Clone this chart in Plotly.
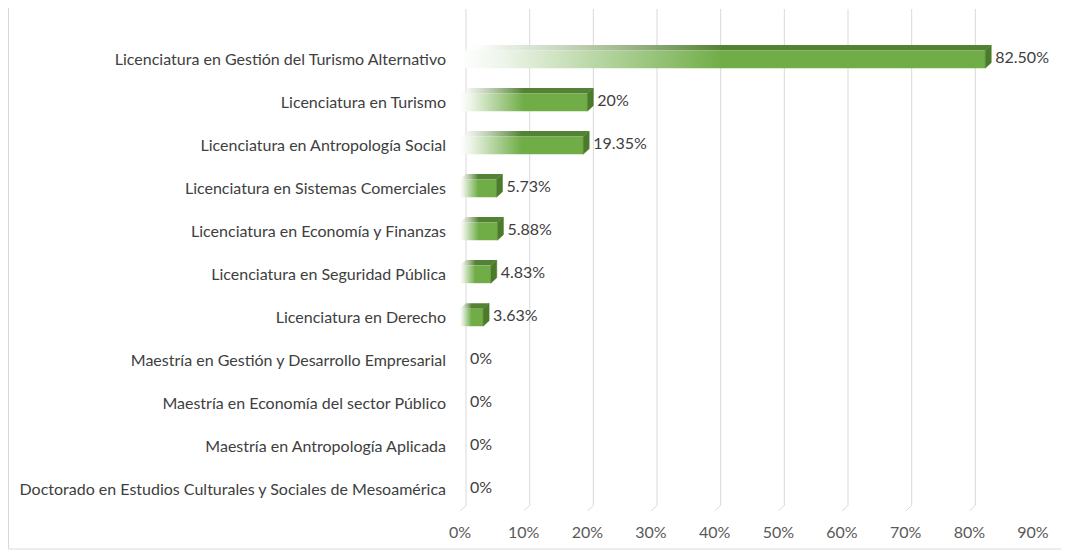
import plotly.graph_objects as go

categories = [
    "Licenciatura en Gestión del Turismo Alternativo",
    "Licenciatura en Turismo",
    "Licenciatura en Antropología Social",
    "Licenciatura en Sistemas Comerciales",
    "Licenciatura en Economía y Finanzas",
    "Licenciatura en Seguridad Pública",
    "Licenciatura en Derecho",
    "Maestría en Gestión y Desarrollo Empresarial",
    "Maestría en Economía del sector Público",
    "Maestría en Antropología Aplicada",
    "Doctorado en Estudios Culturales y Sociales de Mesoamérica",
]
values = [0.825, 0.20, 0.1935, 0.0573, 0.0588, 0.0483, 0.0363, 0.0, 0.0, 0.0, 0.0]
value_labels = ["82.50%", "20%", "19.35%", "5.73%", "5.88%", "4.83%", "3.63%", "0%", "0%", "0%", "0%"]
x_ticks = [0.0, 0.1, 0.2, 0.3, 0.4, 0.5, 0.6, 0.7, 0.8, 0.9]
x_ticktext = ["0%", "10%", "20%", "30%", "40%", "50%", "60%", "70%", "80%", "90%"]

# ---- geometry / style (figure pixels; page adds an 8px body margin) ----
W, H = 1061, 544
PLOT_L, PLOT_R = 452, 1025
MT, MB = 1, 41
X_RANGE = [0.0, 0.9]
Y_RANGE = [10.5, -1.17]
px_per_x = (PLOT_R - PLOT_L) / (X_RANGE[1] - X_RANGE[0])
px_per_cat = (H - MT - MB) / (Y_RANGE[0] - Y_RANGE[1])
DX = 6.0 / px_per_x          # 3D depth offset (x, data units)
DY = 5.5 / px_per_cat        # 3D depth offset (y, category units)
HALF = 8.8 / px_per_cat      # half height of bar front face
LABEL_GAP = 4.0 / px_per_x
FRONT = "#70AD47"
TOP = "#548235"
SIDE = "#4B7A2B"
GRID = "#D9D9D9"
FONT = "Lato"
FS = 16

fig = go.Figure()

# gridlines on the back wall with floor diagonal
gx, gy = [], []
for t in x_ticks:
    gx += [t + DX, t + DX, t, None]
    gy += [Y_RANGE[1], Y_RANGE[0] - DY, Y_RANGE[0], None]
fig.add_trace(go.Scatter(x=gx, y=gy, mode="lines", line=dict(color=GRID, width=1),
                         hoverinfo="skip", showlegend=False))

idx = list(range(len(categories)))

for i, v in zip(idx, values):
    if v <= 0:
        continue
    # top face
    fig.add_trace(go.Scatter(
        x=[0, v, v + DX, DX, 0], y=[i - HALF, i - HALF, i - HALF - DY, i - HALF - DY, i - HALF],
        mode="lines", fill="toself", line=dict(width=0),
        fillgradient=dict(type="horizontal", start=0, stop=v,
                          colorscale=[[0, "rgba(255,255,255,0)"], [0.08, "rgba(230,236,226,0.8)"],
                                      [0.5, TOP], [1, TOP]]),
        hoverinfo="skip", showlegend=False))
    # front face
    fig.add_trace(go.Scatter(
        x=[0, v, v, 0, 0], y=[i - HALF, i - HALF, i + HALF, i + HALF, i - HALF],
        mode="lines", fill="toself", line=dict(width=0),
        fillgradient=dict(type="horizontal", start=0, stop=v,
                          colorscale=[[0, "rgba(255,255,255,1)"], [0.08, "#EEF5EA"],
                                      [0.5, FRONT], [1, FRONT]]),
        hoverinfo="skip", showlegend=False))

# right side faces
sx, sy = [], []
for i, v in zip(idx, values):
    if v <= 0:
        continue
    sx += [v, v + DX, v + DX, v, v, None]
    sy += [i - HALF, i - HALF - DY, i + HALF - DY, i + HALF, i - HALF, None]
fig.add_trace(go.Scatter(x=sx, y=sy, mode="lines", fill="toself", fillcolor=SIDE,
                         line=dict(color=SIDE, width=0.5), hoverinfo="skip", showlegend=False))

# data labels
fig.add_trace(go.Scatter(x=[v + DX + LABEL_GAP for v in values], y=idx, mode="text", text=value_labels,
                         textposition="middle right",
                         textfont=dict(family=FONT, size=FS, color="#404040"),
                         cliponaxis=False, hoverinfo="skip", showlegend=False))

pw = PLOT_R - PLOT_L
ph = H - MT - MB


def px_x(p):
    return (p - PLOT_L) / pw


def px_y(p):
    return (H - MB - p) / ph


border = [
    dict(type="line", xref="paper", yref="paper", x0=px_x(0.5), x1=px_x(0.5), y0=px_y(0), y1=px_y(541)),
    dict(type="line", xref="paper", yref="paper", x0=px_x(1055), x1=px_x(1055), y0=px_y(0), y1=px_y(541)),
    dict(type="line", xref="paper", yref="paper", x0=px_x(0.5), x1=px_x(1055), y0=px_y(541), y1=px_y(541)),
]
for s in border:
    s.update(line=dict(color=GRID, width=1), layer="below")

fig.update_layout(
    width=W, height=H,
    margin=dict(l=PLOT_L, r=W - PLOT_R, t=MT, b=MB, pad=0),
    paper_bgcolor="white", plot_bgcolor="white",
    showlegend=False,
    font=dict(family=FONT, size=FS, color="#404040"),
    shapes=border,
)
fig.update_xaxes(range=X_RANGE, tickmode="array", tickvals=x_ticks, ticktext=x_ticktext,
                 showgrid=False, zeroline=False, showline=False, ticks="", automargin=False,
                 tickfont=dict(family=FONT, size=FS, color="#595959"), ticklabelstandoff=10)
fig.update_yaxes(range=Y_RANGE, tickmode="array", tickvals=idx, ticktext=categories,
                 showgrid=False, zeroline=False, showline=False, ticks="", automargin=False,
                 tickfont=dict(family=FONT, size=FS, color="#404040"), ticklabelstandoff=13)

fig.write_html("out.html")
